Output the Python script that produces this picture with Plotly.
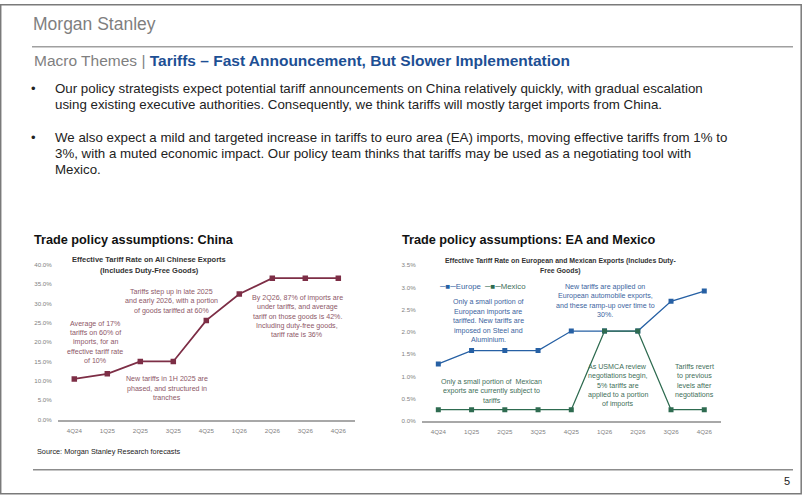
import plotly.graph_objects as go

# ---------------- data ----------------
quarters = ["4Q24", "1Q25", "2Q25", "3Q25", "4Q25", "1Q26", "2Q26", "3Q26", "4Q26"]
china_rate = [10.5, 11.8, 15.0, 15.0, 25.6, 32.4, 36.5, 36.5, 36.5]
europe_rate = [1.28, 1.58, 1.58, 1.58, 2.02, 2.02, 2.02, 2.69, 2.92]
mexico_rate = [0.25, 0.25, 0.25, 0.25, 0.25, 2.02, 2.02, 0.25, 0.25]
china_ticks = [0, 5, 10, 15, 20, 25, 30, 35, 40]
ea_ticks = [0, 0.5, 1.0, 1.5, 2.0, 2.5, 3.0, 3.5]
series_names = ["Europe", "Mexico"]

W, H = 802, 498
def X(px):
    return px / W
def Y(py):
    return 1 - py / H

ARIAL = "Liberation Sans, Arial, sans-serif"

MAROON = "#7D2E46"
MAROON_TXT = "#8E5868"
BLUE = "#2660A4"
BLUE_TXT = "#3B64A0"
GREEN = "#2E6B50"
GREEN_TXT = "#3F6F5A"

fig = go.Figure()

fig.add_trace(go.Scatter(
    x=quarters, y=china_rate, mode="lines+markers", name="China",
    line=dict(color=MAROON, width=1.8),
    marker=dict(symbol="square", size=5.5, color=MAROON),
    xaxis="x", yaxis="y", showlegend=False))

fig.add_trace(go.Scatter(
    x=quarters, y=europe_rate, mode="lines+markers", name=series_names[0],
    line=dict(color=BLUE, width=1.3),
    marker=dict(symbol="square", size=5, color=BLUE),
    xaxis="x2", yaxis="y2", showlegend=False))

fig.add_trace(go.Scatter(
    x=quarters, y=mexico_rate, mode="lines+markers", name=series_names[1],
    line=dict(color=GREEN, width=1.3),
    marker=dict(symbol="square", size=5, color=GREEN),
    xaxis="x2", yaxis="y2", showlegend=False))

axis_common_x = dict(
    type="category", range=[-0.5, 8.5], showline=True, linecolor="#A8A8A8",
    linewidth=1.5, showgrid=False, zeroline=False, ticks="", ticklabelstandoff=4,
    tickfont=dict(family=ARIAL, size=6.2, color="#7F7F7F"), fixedrange=True)
axis_common_y = dict(
    showline=False, showgrid=False, zeroline=False, ticks="", ticklabelstandoff=5,
    tickfont=dict(family=ARIAL, size=6.2, color="#7F7F7F"), fixedrange=True)

fig.update_layout(
    width=W, height=H, margin=dict(l=0, r=0, t=0, b=0),
    paper_bgcolor="white", plot_bgcolor="white",
    xaxis=dict(domain=[X(57.8), X(354.8)], anchor="y", **axis_common_x),
    yaxis=dict(domain=[Y(421.5), Y(264.3)], anchor="x", range=[0, 40],
               tickvals=china_ticks, ticktext=["%.1f%%" % v for v in china_ticks],
               **axis_common_y),
    xaxis2=dict(domain=[X(421.7), X(720.9)], anchor="y2", **axis_common_x),
    yaxis2=dict(domain=[Y(422.7), Y(265.0)], anchor="x2", range=[0, 3.5],
                tickvals=ea_ticks, ticktext=["%.1f%%" % v for v in ea_ticks],
                **axis_common_y),
    showlegend=False,
)

ann = []
def text(s, px, py, size, color, family=ARIAL, xanchor="left", bold=False):
    if bold:
        s = "<b>%s</b>" % s
    ann.append(dict(text=s, x=X(px), y=Y(py), xref="paper", yref="paper",
                    xanchor=xanchor, yanchor="middle", showarrow=False,
                    font=dict(family=family, size=size, color=color)))

def block(lines, cx, y0, gap, size, color, bold=False):
    for i, ln in enumerate(lines):
        text(ln, cx, y0 + i * gap, size, color, xanchor="center", bold=bold)

# header
text("Morgan Stanley", 31, 20, 17.5, "#7F7F7F")
text("<span style='color:#7F7F7F'>Macro Themes | </span><b><span style='color:#1D4F94'>Tariffs – Fast Announcement, But Slower Implementation</span></b>",
     32, 57, 15.5, "#7F7F7F")

bullet1 = ["Our policy strategists expect potential tariff announcements on China relatively quickly, with gradual escalation",
           "using existing executive authorities. Consequently, we think tariffs will mostly target imports from China."]
bullet2 = ["We also expect a mild and targeted increase in tariffs to euro area (EA) imports, moving effective tariffs from 1% to",
           "3%, with a muted economic impact. Our policy team thinks that tariffs may be used as a negotiating tool with",
           "Mexico."]
BODY = 13.3
text("•", 29, 86, 13, "#222222")
for i, ln in enumerate(bullet1):
    text(ln, 53, 86 + i * 16.4, BODY, "#222222")
text("•", 29, 135, 13, "#222222")
for i, ln in enumerate(bullet2):
    text(ln, 53, 135 + i * 16.4, BODY, "#222222")

# section titles
text("Trade policy assumptions: China", 32, 239, 12.7, "#111111", bold=True)
text("Trade policy assumptions: EA and Mexico", 400, 239, 12.7, "#111111", bold=True)

# chart titles
block(["Effective Tariff Rate on All Chinese Exports", "(Includes Duty-Free Goods)"],
      149, 259.5, 10.5, 7.5, "#333333", bold=True)
block(["Effective Tariff Rate on European and Mexican Exports (Includes Duty-", "Free Goods)"],
      560.5, 260.7, 10.2, 6.9, "#333333", bold=True)

# legend (EA / Mexico chart)
text("<span style='color:%s'>─■─</span><span style='color:%s'>%s</span>" % (BLUE, BLUE_TXT, series_names[0]),
     437, 286.7, 7.8, BLUE_TXT)
text("<span style='color:%s'>─■─</span><span style='color:%s'>%s</span>" % (GREEN, GREEN_TXT, series_names[1]),
     482, 286.7, 7.8, GREEN_TXT)

AS = 7.1
# China annotations
block(["Average of 17%", "tariffs on 60% of", "imports, for an", "effective tariff rate", "of 10%"],
      95, 324.3, 9.4, AS, MAROON_TXT)
block(["Tariffs step up in late 2025", "and early 2026, with a portion", "of goods tariffed at 60%"],
      171.7, 291.7, 9.7, AS, MAROON_TXT)
block(["By 2Q26, 87% of imports are", "under tariffs, and average", "tariff on those goods is 42%.",
       "Including duty-free goods,", "tariff rate is 36%"],
      297.3, 298.3, 9.4, AS, MAROON_TXT)
block(["New tariffs in 1H 2025 are", "phased, and structured in", "tranches"],
      167.3, 380.7, 9.3, AS, MAROON_TXT)

# EA / Mexico annotations
block(["Only a small portion of", "European imports are", "tariffed. New tariffs are",
       "imposed on Steel and", "Aluminium."],
      488.3, 302.7, 9.5, AS, BLUE_TXT)
block(["New tariffs are applied on", "European automobile exports,", "and these ramp-up over time to", "30%."],
      605, 287, 9.6, AS, BLUE_TXT)
block(["Only a small portion of  Mexican", "exports are currently subject to", "tariffs"],
      491.7, 383.3, 9.5, AS, GREEN_TXT)
block(["As USMCA review", "negotiations begin,", "5% tariffs are", "applied to a portion", "of imports"],
      617.7, 368.3, 9.35, AS, GREEN_TXT)
block(["Tariffs revert", "to previous", "levels after", "negotiations"],
      694.3, 368.3, 9.45, AS, GREEN_TXT)

# footer
text("Source: Morgan Stanley Research forecasts", 35, 453.7, 7.3, "#222222")
text("5", 782, 484, 11, "#222222")

fig.update_layout(annotations=ann)

shapes = [
    dict(type="rect", xref="paper", yref="paper", x0=X(0.7), x1=X(801.2), y0=Y(496.7), y1=Y(0.7),
         line=dict(color="#7A7A7A", width=1.5), fillcolor="rgba(0,0,0,0)", layer="above"),
    dict(type="line", xref="paper", yref="paper", x0=X(32), x1=X(793), y0=Y(43.3), y1=Y(43.3),
         line=dict(color="#A0A0A0", width=1.5)),
    dict(type="line", xref="paper", yref="paper", x0=X(33), x1=X(793), y0=Y(472.3), y1=Y(472.3),
         line=dict(color="#8C8C8C", width=1.5)),
]
fig.update_layout(shapes=shapes)

fig.write_html("out.html", config={"displayModeBar": False},
               post_script="document.body.style.margin='0';document.body.style.overflow='hidden';")
